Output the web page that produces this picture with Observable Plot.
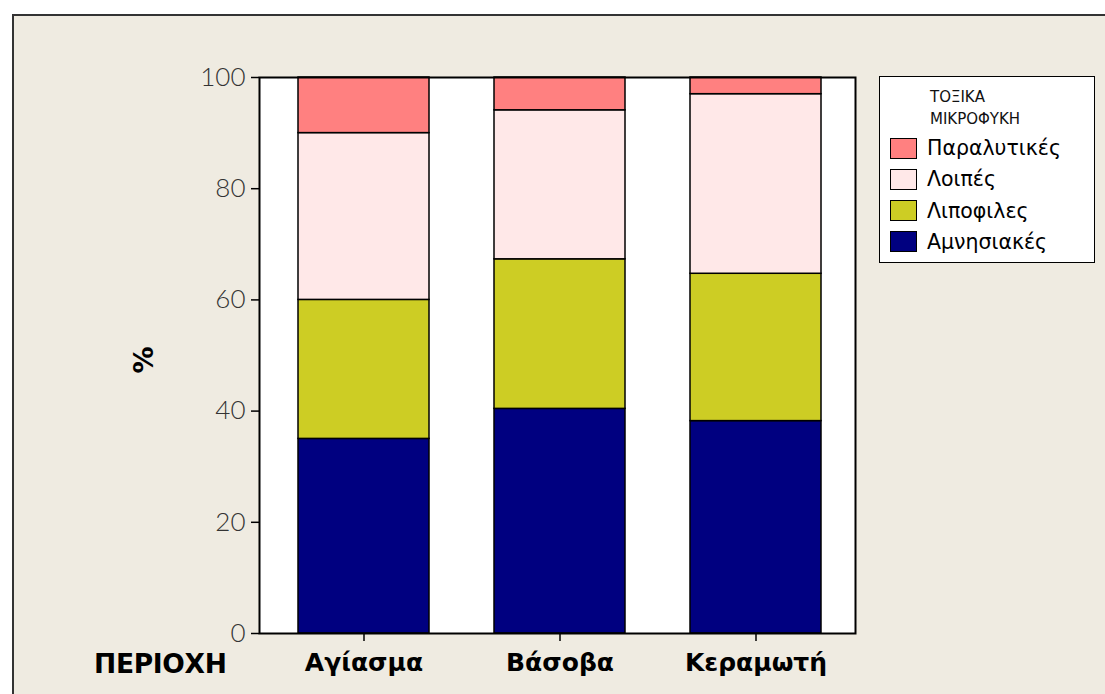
<!DOCTYPE html>
<html><head><meta charset="utf-8">
<script src="https://cdn.jsdelivr.net/npm/d3@7"></script>
<script src="https://cdn.jsdelivr.net/npm/@observablehq/plot@0.6"></script>
<style>
html,body{margin:0;padding:0;background:#fff;width:1105px;height:694px;overflow:hidden;}
#border{position:absolute;left:12px;top:14px;width:1110px;height:700px;border:2px solid #333;background:#EFEBE1;box-sizing:border-box;}
#chart{position:absolute;left:0;top:0;}
.lbl{position:absolute;font-family:"DejaVu Sans",Verdana,sans-serif;font-weight:bold;color:#000;line-height:1;}
#legend{position:absolute;left:879px;top:76px;width:216px;height:187px;box-sizing:border-box;border:1.5px solid #000;background:#fff;font-family:"DejaVu Sans",Verdana,sans-serif;}
#legend .t{position:absolute;left:50px;font-size:15px;color:#111;}
#legend .row{position:absolute;left:10px;height:24px;display:flex;align-items:center;font-size:20.5px;color:#000;}
#legend .sw{width:27px;height:21px;border:1.5px solid #000;box-sizing:border-box;margin-right:10px;}
</style></head>
<body>
<div id="border"></div>
<div id="chart"></div>
<div class="lbl" style="left:94px;top:651px;font-size:26.5px;letter-spacing:-0.3px;">ΠΕΡΙΟΧΗ</div>
<div class="lbl" style="left:143px;top:360px;font-size:27px;transform:translate(-50%,-50%) rotate(-90deg);">%</div>
<div id="legend"></div>
<script>
const regions = ["Αγίασμα", "Βάσοβα", "Κεραμωτή"];
const types = ["Αμνησιακές", "Λιποφιλες", "Λοιπές", "Παραλυτικές"];
const colors = ["#000080", "#CDCD24", "#FFE8E8", "#FF8080"];
const amnesic = [35.0, 40.4, 38.2];
const lipophilic = [25.0, 26.9, 26.5];
const others = [30.0, 26.8, 32.3];
const paralytic = [10.0, 5.9, 3.0];
const yTicks = [0, 20, 40, 60, 80, 100];
const legendTitle = ["ΤΟΞΙΚΑ", "ΜΙΚΡΟΦΥΚΗ"];

const series = [amnesic, lipophilic, others, paralytic];
const data = [];
types.forEach((t, i) => regions.forEach((r, j) => data.push({region: r, type: t, value: series[i][j]})));

const chart = Plot.plot({
  width: 1105, height: 694,
  marginLeft: 259, marginRight: 250, marginTop: 77, marginBottom: 61,
  style: {background: "transparent", fontFamily: "Lato, 'DejaVu Sans', sans-serif"},
  x: {domain: regions, paddingInner: 0.334, paddingOuter: 0.18, align: 0.53},
  y: {domain: [0, 100]},
  color: {domain: types, range: colors},
  marks: [
    Plot.frame({fill: "#fff"}),
    Plot.barY(data, {x: "region", y: "value", fill: "type", stroke: "#000", strokeWidth: 1.5, order: types}),
    Plot.frame({stroke: "#000", strokeWidth: 2}),
    Plot.axisY({ticks: yTicks, tickSize: 8, tickPadding: 6, label: null, fontSize: 26, fontWeight: 300, fill: "#333", stroke: "#000", strokeWidth: 1.5}),
    Plot.axisX({tickSize: 8, tickPadding: 12, label: null, fontSize: 25, fontWeight: "bold", fontFamily: "'DejaVu Sans', Verdana, sans-serif", fill: "#000", stroke: "#000", strokeWidth: 1.5})
  ]
});
document.getElementById("chart").appendChild(chart);

const lg = document.getElementById("legend");
legendTitle.forEach((t, i) => {
  const d = document.createElement("div");
  d.className = "t"; d.style.top = (11 + i * 22) + "px"; d.textContent = t; lg.appendChild(d);
});
types.slice().reverse().forEach((t, i) => {
  const row = document.createElement("div");
  row.className = "row"; row.style.top = (59 + i * 31.3) + "px";
  const sw = document.createElement("div"); sw.className = "sw"; sw.style.background = colors[types.indexOf(t)];
  row.appendChild(sw);
  const s = document.createElement("span"); s.textContent = t; row.appendChild(s);
  lg.appendChild(row);
});
</script>
</body></html>
